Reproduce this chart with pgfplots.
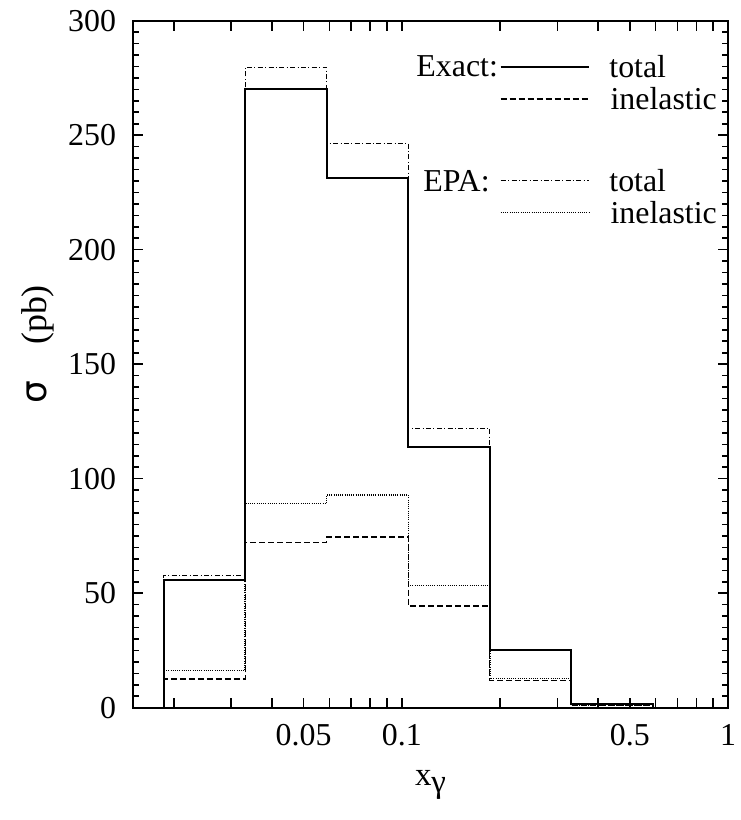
\documentclass[border=0pt]{standalone}
\usepackage{fontspec}
\setmainfont{Liberation Serif}
\newfontfamily\symfont{DejaVu Sans}
\usepackage{pgfplots}
\pgfplotsset{compat=1.18}
\begin{document}
\begin{tikzpicture}
\begin{axis}[
  scale only axis, width=297.5bp, height=343.5bp,
  xmode=log, xmin=0.015, xmax=1, ymin=0, ymax=300,
  xtick={0.05,0.1,0.5,1}, xticklabels={0.05,0.1,0.5,1},
  extra x ticks={0.02,0.03,0.04,0.06,0.07,0.08,0.09,0.2,0.3,0.4,0.6,0.7,0.8,0.9},
  extra x tick labels={},
  minor x tick num=0,
  ytick={0,50,...,300}, minor y tick num=9,
  tick align=inside,
  major tick length=5bp, minor tick length=3bp,
  axis line style={line width=1.1bp},
  every tick/.style={line width=0.8bp, black},
  tick label style={font=\fontsize{16}{19}\selectfont},
  /pgf/number format/assume math mode=true,
  yticklabel style={xshift=-5bp},
  xticklabel style={yshift=-5bp},
  xlabel={x\raisebox{-0.45ex}{γ}},
  ylabel={{\symfont\fontsize{18}{20}\selectfont σ}\hspace{1em}(pb)},
  xlabel style={font=\fontsize{16.5}{19}\selectfont, at={(axis description cs:0.5,-0.112)}, anchor=center},
  ylabel style={font=\fontsize{18}{20}\selectfont, at={(axis description cs:-0.16,0.529)}, anchor=center},
  const plot mark left,
]
\coordinate (sw) at (rel axis cs:0,0);
\coordinate (ne) at (rel axis cs:1,1);
% Exact total
\addplot[black, line width=0.9bp] coordinates {
 (0.01862,0) (0.01862,55.8) (0.03311,270.2) (0.05888,231.2) (0.1047,113.7) (0.1862,25.2) (0.3311,1.6) (0.5888,1.6) (0.5888,0)};
% EPA total
\addplot[black, line width=0.6bp, dash pattern=on 2.5bp off 1.2bp on 0.5bp off 1.2bp] coordinates {
 (0.01862,0) (0.01862,57.8) (0.03311,279.6) (0.05888,246.5) (0.1047,122.0) (0.1862,25.0) (0.3311,1.5) (0.5888,1.5) (0.5888,0)};
% Exact inelastic
\addplot[black, line width=0.6bp, dash pattern=on 3bp off 1.5bp] coordinates {
 (0.01862,0) (0.01862,12.5) (0.03311,72.2) (0.05888,74.5) (0.1047,44.4) (0.1862,11.8) (0.3311,1.0) (0.5888,1.0) (0.5888,0)};
% EPA inelastic
\addplot[black, line width=0.7bp, dash pattern=on 0.5bp off 0.6bp] coordinates {
 (0.01862,0) (0.01862,16.2) (0.03311,89.1) (0.05888,92.9) (0.1047,53.3) (0.1862,12.8) (0.3311,1.2) (0.5888,1.2) (0.5888,0)};
% legend
\begin{scope}[font=\fontsize{16}{19}\selectfont]
\node[anchor=east, inner sep=0pt] at (rel axis cs:0.614,0.933) {Exact:};
\node[anchor=east, inner sep=0pt] at (rel axis cs:0.600,0.767) {EPA:};
\draw[black, line width=0.9bp] (rel axis cs:0.618,0.933) -- (rel axis cs:0.767,0.933);
\draw[black, line width=0.6bp, dash pattern=on 3bp off 1.5bp] (rel axis cs:0.618,0.886) -- (rel axis cs:0.767,0.886);
\draw[black, line width=0.6bp, dash pattern=on 2.5bp off 1.2bp on 0.5bp off 1.2bp] (rel axis cs:0.618,0.767) -- (rel axis cs:0.767,0.767);
\draw[black, line width=0.7bp, dash pattern=on 0.5bp off 0.6bp] (rel axis cs:0.618,0.721) -- (rel axis cs:0.767,0.721);
\node[anchor=west, inner sep=0pt] at (rel axis cs:0.800,0.933) {total};
\node[anchor=west, inner sep=0pt] at (rel axis cs:0.802,0.886) {inelastic};
\node[anchor=west, inner sep=0pt] at (rel axis cs:0.800,0.767) {total};
\node[anchor=west, inner sep=0pt] at (rel axis cs:0.802,0.721) {inelastic};
\end{scope}
\end{axis}
\pgfresetboundingbox
\path ([shift={(-66.5bp,-56.15bp)}]sw) rectangle ([shift={(6.5bp,10.35bp)}]ne);
\end{tikzpicture}
\end{document}
